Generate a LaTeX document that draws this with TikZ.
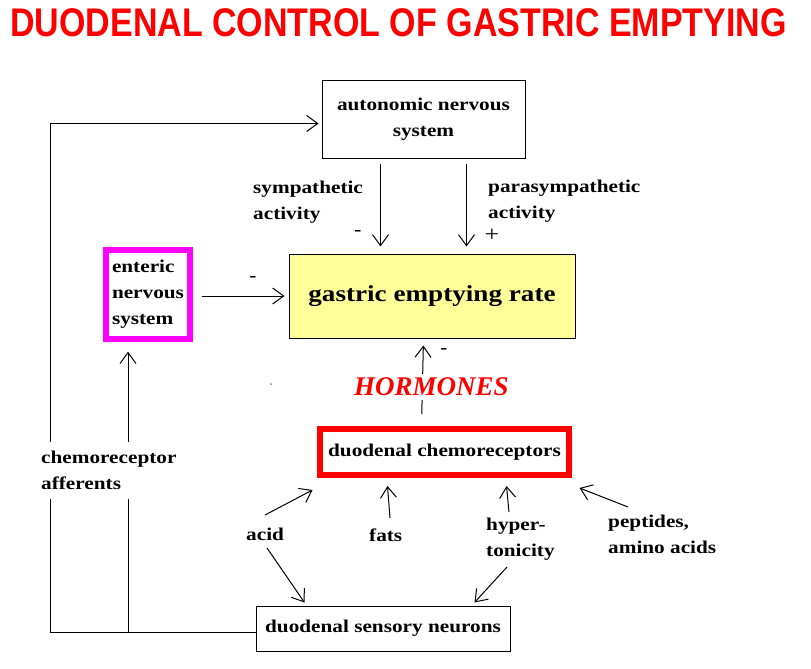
\documentclass[tikz,border=0pt]{standalone}
\usepackage{fontspec}
\setmainfont{Liberation Serif}[FakeStretch=1.18]
\newfontfamily\titlefont{Liberation Sans}[FakeStretch=0.85]
\newfontfamily\hormfont{Liberation Serif}
\usetikzlibrary{arrows.meta,calc}
\definecolor{boxyellow}{RGB}{255,255,153}
\definecolor{pureRed}{RGB}{255,0,0}
\definecolor{pureMagenta}{RGB}{255,0,255}
\begin{document}
\begin{tikzpicture}[x=1pt,y=-1pt,
  ln/.style={line width=1pt},
  arr/.style={line width=1pt,-{Straight Barb[length=11pt,width=16pt,line width=1pt]}},
  lbl/.style={font=\fontsize{18}{26}\selectfont\bfseries, inner sep=0pt, align=left},
  box/.style={draw, line width=1pt, inner sep=0pt, align=center, font=\fontsize{18}{26}\selectfont\bfseries},
  sign/.style={font=\fontsize{18}{18}\selectfont\bfseries, inner sep=0pt},
]
\useasboundingbox (0,0) rectangle (811,669);
\fill[white] (0,0) rectangle (811,669);

% title
\node[anchor=base, text=pureRed, inner sep=0pt, font=\titlefont\fontsize{40}{40}\selectfont\bfseries] (title) at (398.5,37) {DUODENAL CONTROL OF GASTRIC EMPTYING};

% boxes
\node[box, minimum width=203pt, minimum height=78pt] (ans) at (423.5,119) {autonomic nervous\\system};
\node[box, draw=pureMagenta, line width=6pt, minimum width=84.6pt, minimum height=88.4pt, align=left] (ent) at (148,294.5) {enteric\\nervous\\system};
\node[box, fill=boxyellow, minimum width=286pt, minimum height=84pt, font=\fontsize{23}{28}\selectfont\bfseries] (gas) at (432,296) {gastric emptying rate};
\node[box, draw=pureRed, line width=6pt, minimum width=249pt, minimum height=46pt] (chemo) at (444.5,452) {duodenal chemoreceptors};
\node[box, minimum width=254pt, minimum height=45pt] (sens) at (383,628.5) {duodenal sensory neurons};

% coordinates for free ends / routing
\coordinate (fbl) at (50,632);
\coordinate (fbt) at (50,123.5);
\coordinate (fbm) at (128,632);
\coordinate (acidU) at (265,515);
\coordinate (acidD) at (267,548);
\coordinate (fatsU) at (390,518);
\coordinate (hypU) at (509,512);
\coordinate (hypD) at (507,567);
\coordinate (pepU) at (628,507);

% feedback line
\draw[ln] (sens.west |- fbl) -- (fbl) -- (fbt);
\draw[arr, shorten >=3pt] (fbt) -- (fbt -| ans.west);
\draw[arr, shorten >=10pt] (fbm) -- (fbm |- ent.south);

% autonomic arrows
\draw[arr, shorten <=5pt, shorten >=7pt] ([xshift=59pt]ans.south west) -- ([xshift=92pt]gas.north west);
\draw[arr, shorten <=5pt, shorten >=7pt] ([xshift=145pt]ans.south west) -- ([xshift=178pt]gas.north west);

% enteric -> gastric
\draw[arr, shorten <=9pt, shorten >=4pt] (ent.east |- gas.west) -- (gas.west);

% hormones
\draw[arr, shorten <=12pt, shorten >=7pt] ([xshift=104.5pt]chemo.north west) -- ([xshift=135pt]gas.south west);

% stimuli arrows
\draw[arr] (acidU) -- ($(chemo.south west)+(-4.5,12)$);
\draw[arr] (acidD) -- ($(sens.north west)+(49,-3)$);
\draw[arr] (fatsU) -- ($(chemo.south west)+(70.5,8)$);
\draw[arr] (hypU) -- ($(chemo.south west)+(189.5,8)$);
\draw[arr] (hypD) -- ($(sens.north west)+(219,-3)$);
\draw[arr] (pepU) -- ($(chemo.south east)+(7.5,10)$);

% labels
\node[lbl, anchor=north west] (symL) at (253,181) {sympathetic\\activity};
\node[lbl, anchor=north west] (parL) at (488,180) {parasympathetic\\activity};
\node[lbl, anchor=north west, fill=white, inner ysep=9pt] (affL) at (41,442) {chemoreceptor\\afferents};
\node[lbl, anchor=base west] (acid) at (246,540) {acid};
\node[lbl, anchor=base west] (fats) at (369,541) {fats};
\node[lbl, anchor=north west] (hyp) at (486,517.7) {hyper-\\tonicity};
\node[lbl, anchor=north west] (pep) at (608,514.5) {peptides,\\amino acids};
\node[fill=white, inner sep=4pt, text=pureRed, font=\hormfont\fontsize{27}{27}\selectfont\bfseries\itshape] (horm) at (431.5,387) {HORMONES};

% signs
\node[sign] (m1) at (358,233) {-};
\node[sign, font=\fontsize{22}{22}\selectfont] (p1) at (492,235) {+};
\node[sign] (m2) at (253,279) {-};
\node[sign] (m3) at (444,351) {-};

% stray dot
\fill[gray] (271,384) circle (1pt);
\end{tikzpicture}
\end{document}
